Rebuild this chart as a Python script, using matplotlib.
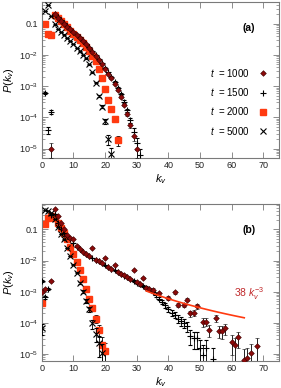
import numpy as np
import matplotlib
matplotlib.use("Agg")
import matplotlib.pyplot as plt
from matplotlib.lines import Line2D
from matplotlib.ticker import FixedLocator, NullFormatter

plt.rcParams["font.family"] = ["Liberation Sans", "DejaVu Sans"]
plt.rcParams["mathtext.fontset"] = "custom"
plt.rcParams["mathtext.rm"] = "Liberation Sans"
plt.rcParams["mathtext.it"] = "Liberation Sans:italic"
plt.rcParams["font.size"] = 6.5

# ---- panel (a) ----
a_k_1000 = [3] + list(range(4, 31))
a_p_1000 = [1.0e-5, 0.200, 0.158, 0.126, 0.100, 0.0794, 0.0661, 0.0537, 0.0437, 0.0355,
            0.0282, 0.0219, 0.0166, 0.0126, 0.00955, 0.00692, 0.00501, 0.00355, 0.00251,
            0.00178, 0.00120, 7.6e-4, 4.5e-4, 2.5e-4, 1.26e-4, 5.6e-5, 2.5e-5, 1.0e-5]

a_k_1500 = list(range(1, 32))
a_p_1500 = [6e-4, 4e-5, 1.5e-4, 0.21, 0.165, 0.13, 0.103, 0.082, 0.068, 0.055, 0.045,
            0.037, 0.029, 0.0228, 0.0174, 0.0132, 0.0100, 0.0074, 0.0054, 0.0039, 0.0028,
            0.0020, 0.00137, 9e-4, 5.5e-4, 3.2e-4, 1.7e-4, 8e-5, 3.5e-5, 1.5e-5, 6e-6]

a_k_2000 = list(range(1, 25))
a_p_2000 = [0.1, 0.047, 0.043, 0.19, 0.15, 0.12, 0.095, 0.076, 0.06, 0.048, 0.038, 0.030,
            0.0235, 0.0178, 0.0132, 0.0095, 0.0063, 0.0035, 0.0018, 8e-4, 3.5e-4, 1.8e-4,
            9e-5, 1.9e-5]

a_k_5000 = list(range(1, 23))
a_p_5000 = [0.25, 0.40, 0.18, 0.095, 0.068, 0.055, 0.045, 0.0355, 0.028, 0.022, 0.0166,
            0.0129, 0.010, 0.0078, 0.005, 0.0028, 0.0013, 5e-4, 2.2e-4, 7.4e-5, 2e-5, 6.5e-6]

# ---- panel (b) ----
b_k_1000 = [0, 1, 3] + list(range(4, 36)) + [37, 40, 42, 43, 45, 46, 47, 48, 49, 51, 52,
                                               53, 55, 56, 57, 58, 60, 61, 62, 64, 65, 66, 68]
b_p_1000 = [1.0e-3, 1.2e-3, 2.2e-3,
            0.45, 0.26, 0.16, 0.10, 0.065, 0.052, 0.05, 0.03, 0.024, 0.0195, 0.0165, 0.014,
            0.026, 0.0105, 0.0094, 0.0082, 0.0123, 0.0061, 0.0054, 0.0073, 0.0043, 0.0037,
            0.0034, 0.0030, 0.0026, 0.0049, 0.0020, 0.0017, 0.0027, 0.0013, 0.0012, 0.00117,
            8.9e-4, 6.4e-4, 9.5e-4, 3.8e-4, 3.8e-4, 5.6e-4, 2.0e-4, 2.1e-4, 3.4e-4, 1.07e-4,
            1.1e-4, 5.8e-5, 1.45e-4, 5.6e-5, 5.4e-5, 6.6e-5, 2.5e-5, 1.9e-5, 3.4e-5, 6.5e-6,
            7.4e-6, 1.05e-5, 1.8e-5]

b_k_1500 = list(range(0, 53)) + [54]
b_p_1500 = [2.2e-3, 6.5e-4, 1.2e-3, 0.30, 0.32, 0.16, 0.105, 0.078, 0.063, 0.05, 0.036,
            0.027, 0.023, 0.019, 0.016, 0.0138, 0.012, 0.0105, 0.0095, 0.0083, 0.0071,
            0.0060, 0.0055, 0.0048, 0.0042, 0.0037, 0.0033, 0.0030, 0.0026, 0.0022, 0.0019,
            0.0017, 0.0015, 0.00135, 0.00118, 9.8e-4, 7.8e-4, 6.0e-4, 4.7e-4, 3.6e-4, 2.8e-4,
            2.1e-4, 1.8e-4, 1.35e-4, 1.15e-4, 9.8e-5, 7.9e-5, 3.9e-5, 3.2e-5, 3.2e-5, 1.55e-5,
            9.3e-6, 1.55e-5, 7e-6]

b_k_2000 = list(range(0, 21))
b_p_2000 = [4.3e-4, 0.15, 0.24, 0.27, 0.24, 0.166, 0.115, 0.079, 0.048, 0.028, 0.0166,
            0.0089, 0.0048, 0.0025, 0.00126, 6.0e-4, 3.0e-4, 1.35e-4, 6.0e-5, 2.0e-5, 1.2e-5]

b_k_5000 = list(range(0, 20))
b_p_5000 = [6.6e-5, 0.42, 0.40, 0.33, 0.22, 0.12, 0.07, 0.048, 0.025, 0.014, 0.0074,
            0.0041, 0.0019, 0.001, 5e-4, 2.7e-4, 9.5e-5, 4.5e-5, 2.3e-5, 1.1e-5]

fit_coef = 38
fit_exp = -3
fit_k = np.linspace(33, 64, 60)

# sample sizes used for the error bars
n_samples_a = 4e5
n_samples_b = 1e5

ytick_vals = [1e-5, 1e-4, 1e-3, 1e-2, 1e-1]
ytick_labels = [r"$10^{-5}$", r"$10^{-4}$", r"$10^{-3}$", r"$10^{-2}$", "0.1"]
xtick_vals = [0, 10, 20, 30, 40, 50, 60, 70]

dark_red = "#8b0a0a"
red = "#ff3a10"
frame = "#7a7a7a"


def draw_series(ax, k, p, n, **kw):
    p = np.array(p)
    err = np.sqrt(p / n)
    lo = np.minimum(err, 0.9 * p)
    ax.errorbar(k, p, yerr=[lo, err], ecolor="black", elinewidth=0.6,
                capsize=1.4, capthick=0.6, linestyle="none", **kw)


def style_axes(ax, ymin, ymax):
    ax.set_yscale("log")
    ax.set_xlim(0, 75)
    ax.set_ylim(ymin, ymax)
    ax.yaxis.set_major_locator(FixedLocator(ytick_vals))
    ax.set_yticklabels(ytick_labels)
    minors = [m * 10.0 ** e for e in range(-6, 0) for m in range(2, 10)]
    ax.yaxis.set_minor_locator(FixedLocator(minors))
    ax.yaxis.set_minor_formatter(NullFormatter())
    ax.set_xticks(xtick_vals)
    ax.tick_params(which="both", direction="in", top=True, right=True,
                   color=frame, labelcolor="#222222", pad=2.5)
    ax.tick_params(which="major", length=4, width=0.6)
    ax.tick_params(which="minor", length=2, width=0.5)
    for s in ax.spines.values():
        s.set_color(frame)
        s.set_linewidth(0.8)
    ax.set_xlabel(r"$k_v$", fontsize=8, labelpad=1)
    ax.set_ylabel(r"$P(k_v)$", fontsize=8, labelpad=2)


fig = plt.figure(figsize=(2.81, 3.88), dpi=100)
ax_a = fig.add_axes([0.149, 0.593, 0.844, 0.402])
ax_b = fig.add_axes([0.149, 0.070, 0.844, 0.404])

for ax, data, n in [
    (ax_a, (a_k_1000, a_p_1000, a_k_1500, a_p_1500, a_k_2000, a_p_2000, a_k_5000, a_p_5000), n_samples_a),
    (ax_b, (b_k_1000, b_p_1000, b_k_1500, b_p_1500, b_k_2000, b_p_2000, b_k_5000, b_p_5000), n_samples_b),
]:
    k1, p1, k15, p15, k2, p2, k5, p5 = data
    draw_series(ax, k2, p2, n, marker="s", ms=3.8, mfc=red, mec=red, zorder=2)
    draw_series(ax, k5, p5, n, marker="x", ms=3.8, mew=0.8, color="black", zorder=3)
    draw_series(ax, k15, p15, n, marker="+", ms=4.2, mew=0.8, color="black", zorder=3)
    draw_series(ax, k1, p1, n, marker="D", ms=2.9, mfc=dark_red, mec="#3a0000", mew=0.4, zorder=4)

style_axes(ax_a, 5e-6, 0.5)
style_axes(ax_b, 6e-6, 0.65)

ax_b.plot(fit_k, fit_coef * fit_k ** fit_exp, color=red, lw=1.2, zorder=5)
ax_b.text(0.872, 0.43, r"38 $k_v^{-3}$", transform=ax_b.transAxes, color="#c0282a",
          fontsize=7.5, ha="center", va="center")

ax_a.text(0.873, 0.835, "(a)", transform=ax_a.transAxes, fontweight="bold",
          fontsize=7.5, ha="center", va="center")
ax_b.text(0.873, 0.835, "(b)", transform=ax_b.transAxes, fontweight="bold",
          fontsize=7.5, ha="center", va="center")

handles = [
    Line2D([], [], ls="none", marker="D", ms=2.9, mfc=dark_red, mec="#3a0000", mew=0.4),
    Line2D([], [], ls="none", marker="+", ms=4.2, mew=0.8, color="black"),
    Line2D([], [], ls="none", marker="s", ms=3.8, mfc=red, mec=red),
    Line2D([], [], ls="none", marker="x", ms=3.8, mew=0.8, color="black"),
]
labels = [r"$t$  = 1000", r"$t$  = 1500", r"$t$  = 2000", r"$t$  = 5000"]
ax_a.legend(handles, labels, loc="center right", bbox_to_anchor=(1.0, 0.36),
            frameon=False, markerfirst=False, labelspacing=0.75, handlelength=0.8,
            handletextpad=0.9, borderaxespad=0.9, fontsize=7)

fig.savefig("out.png", dpi=100)
